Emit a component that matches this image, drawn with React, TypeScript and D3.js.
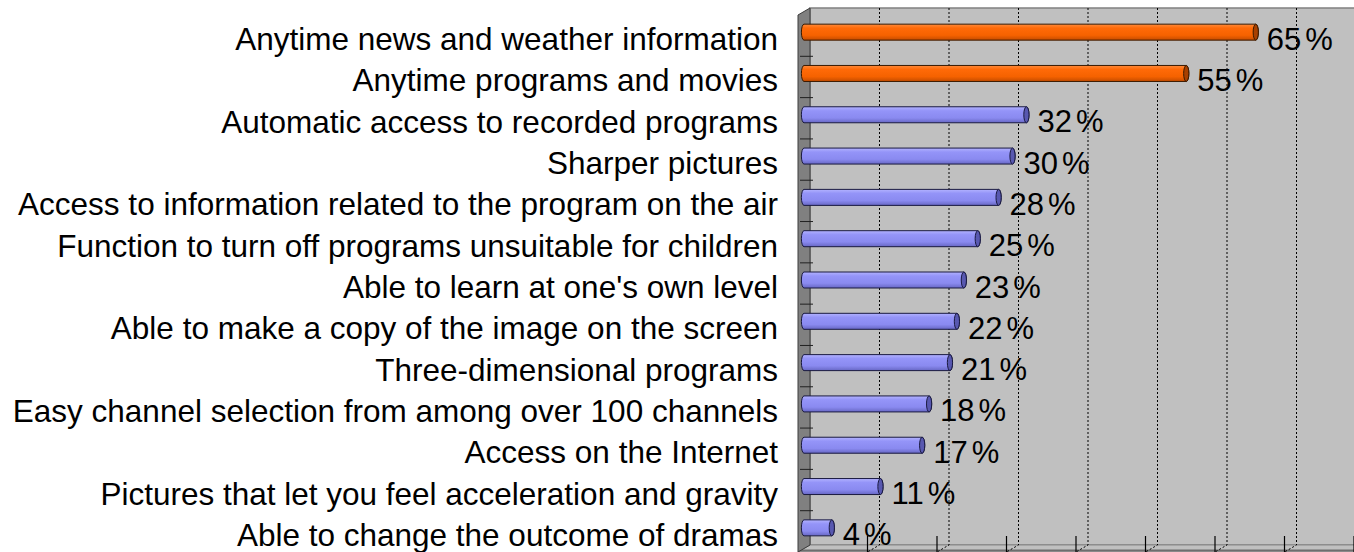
import React from 'react'
import * as d3 from 'd3'

// categories top to bottom, values in percent
const categories: string[] = [
  'Anytime news and weather information',
  'Anytime programs and movies',
  'Automatic access to recorded programs',
  'Sharper pictures',
  'Access to information related to the program on the air',
  'Function to turn off programs unsuitable for children',
  "Able to learn at one's own level",
  'Able to make a copy of the image on the screen',
  'Three-dimensional programs',
  'Easy channel selection from among over 100 channels',
  'Access on the Internet',
  'Pictures that let you feel acceleration and gravity',
  'Able to change the outcome of dramas',
]
const values: number[] = [65, 55, 32, 30, 28, 25, 23, 22, 21, 18, 17, 11, 4]
const highlighted: string[] = ['Anytime news and weather information', 'Anytime programs and movies']
const gridTicks: number[] = [10, 20, 30, 40, 50, 60, 70, 80]

const W = 1354
const H = 552
const depthX = 12
const depthY = 7
const font = 'Arial, "Liberation Sans", sans-serif'

export default function App() {
  // front plane scales
  const x = d3.scaleLinear().domain([0, 80]).range([798, 1354])
  const y = d3.scaleBand().domain(categories).range([15, 552]).padding(0)
  const bw = y.bandwidth()

  const x0 = x(0)
  const top = y.range()[0]
  const bottom = y.range()[1]
  const bx = (v: number) => x(v) + depthX
  const midX = (v: number) => x(v) + depthX / 2
  const ry = 8
  const rx = 2.6

  const cylinder = (xa: number, xb: number, c: number) =>
    `M${xa},${c - ry}L${xb},${c - ry}A${rx},${ry} 0 0 1 ${xb},${c + ry}L${xa},${c + ry}A${rx},${ry} 0 0 1 ${xa},${c - ry}Z`

  return (
    <svg width={W} height={H} style={{ position: 'absolute', left: 0, top: 0 }}>
      <defs>
        <linearGradient id="gBlue" x1="0" y1="0" x2="0" y2="1">
          <stop offset="0" stopColor="#b3b3ff" />
          <stop offset="0.25" stopColor="#9494f8" />
          <stop offset="0.7" stopColor="#8a8af0" />
          <stop offset="1" stopColor="#6767c4" />
        </linearGradient>
        <linearGradient id="gOrange" x1="0" y1="0" x2="0" y2="1">
          <stop offset="0" stopColor="#ff8a3a" />
          <stop offset="0.25" stopColor="#ff6a08" />
          <stop offset="0.7" stopColor="#f56200" />
          <stop offset="1" stopColor="#c44c00" />
        </linearGradient>
      </defs>
      <rect width={W} height={H} fill="#ffffff" />

      {/* back wall */}
      <rect x={bx(0)} y={top - depthY} width={x(80) - x0} height={bottom - top} fill="#c0c0c0" stroke="#808080" strokeWidth={1.5} />
      {/* floor */}
      <polygon
        points={`${bx(0)},${bottom - depthY} ${bx(80)},${bottom - depthY} ${x(80)},${bottom} ${x0},${bottom}`}
        fill="#c0c0c0"
        stroke="#8a8a8a"
        strokeWidth={1}
      />
      <line x1={x0} x2={W} y1={bottom - 1.5} y2={bottom - 1.5} stroke="#6e6e6e" strokeWidth={2} />
      {/* left wall */}
      <polygon
        points={`${x0},${top} ${bx(0)},${top - depthY} ${bx(0)},${bottom - depthY} ${x0},${bottom}`}
        fill="#808080"
        stroke="#3c3c3c"
        strokeWidth={1}
      />

      {/* gridlines */}
      {gridTicks.map(t => (
        <g key={t}>
          <path
            d={`M${bx(t)},${top - depthY}L${bx(t)},${bottom - depthY}L${x(t)},${bottom}`}
            fill="none"
            stroke="#000"
            strokeWidth={1}
            strokeDasharray="2,2"
          />
          <line x1={x(t)} x2={x(t)} y1={bottom - 16} y2={bottom} stroke="#000" strokeWidth={1.2} />
        </g>
      ))}

      {/* category ticks */}
      {categories.slice(1).map(c => (
        <line key={c} x1={x0 + 2} x2={bx(0) + 3} y1={y(c)!} y2={y(c)!} stroke="#202020" strokeWidth={1} />
      ))}

      {/* bars */}
      {categories.map((c, i) => {
        const v = values[i]
        const cy = y(c)! + bw / 2 - depthY / 2
        const xa = midX(0)
        const xb = midX(v)
        const hot = highlighted.includes(c)
        return (
          <g key={c}>
            <path d={cylinder(xa, xb, cy)} fill={hot ? 'url(#gOrange)' : 'url(#gBlue)'} stroke={hot ? '#3a1a00' : '#1a1a40'} strokeWidth={1} />
            <ellipse cx={xb} cy={cy} rx={rx} ry={ry} fill={hot ? '#a84000' : '#5858b0'} stroke={hot ? '#3a1a00' : '#1a1a40'} strokeWidth={1} />
          </g>
        )
      })}

      {/* category labels */}
      {categories.map(c => (
        <text key={c} x={778} y={y(c)! + bw / 2 + 14.5} textAnchor="end" fontFamily={font} fontSize={31.5} fill="#000">
          {c}
        </text>
      ))}

      {/* value labels */}
      {categories.map((c, i) => (
        <text key={c} x={midX(values[i]) + 11} y={y(c)! + bw / 2 + 14} fontFamily={font} fontSize={31} fill="#000">
          {values[i]}
          <tspan dx={4}>%</tspan>
        </text>
      ))}
    </svg>
  )
}
